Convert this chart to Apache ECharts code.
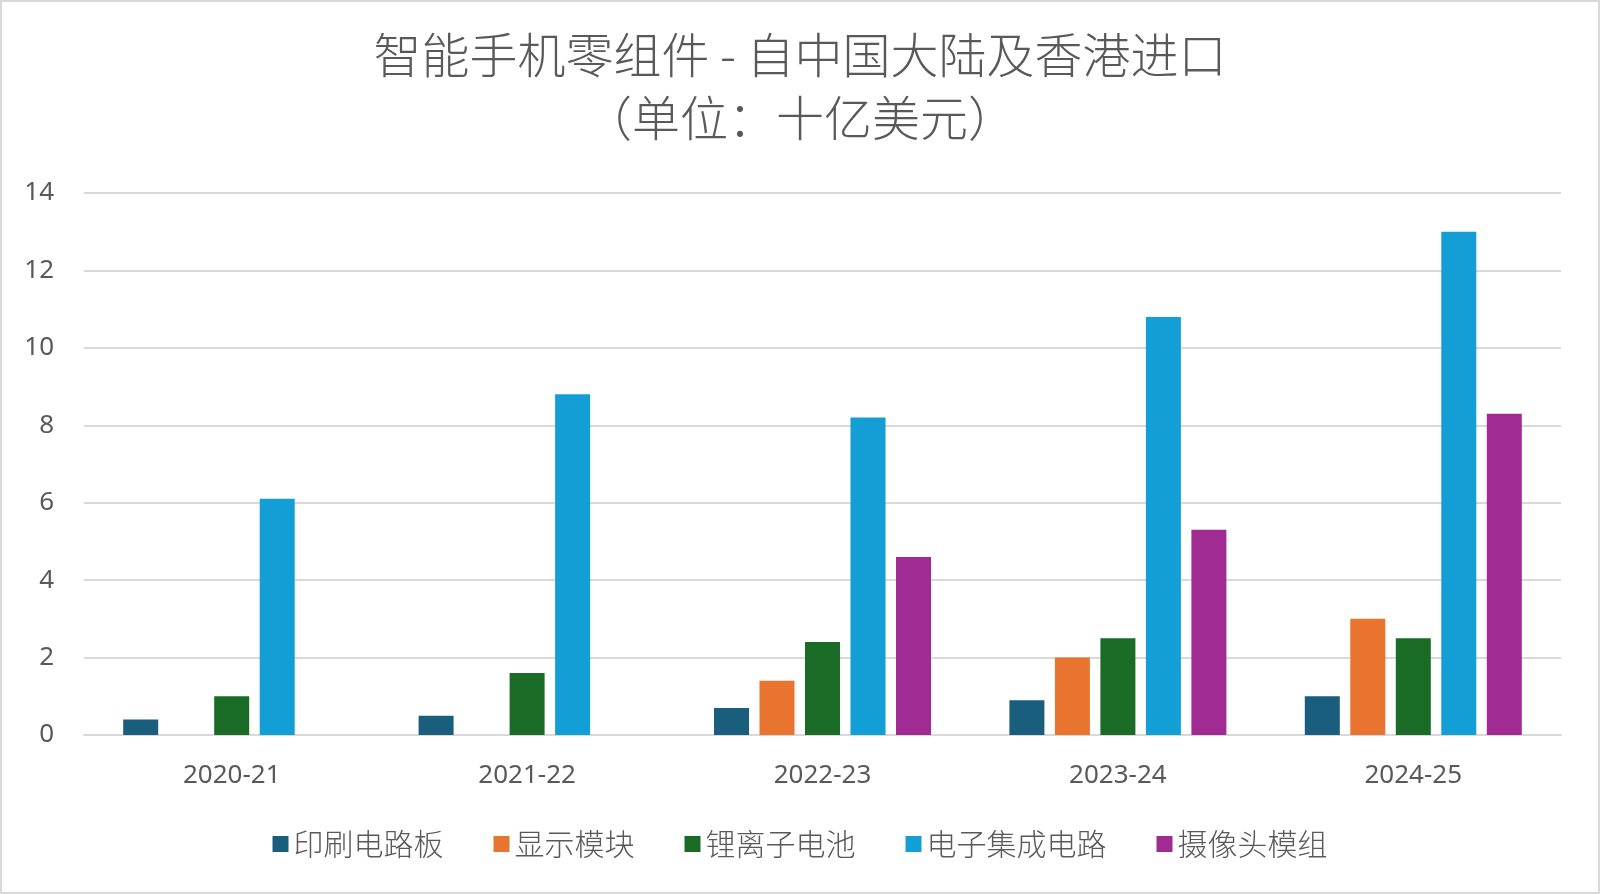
<!DOCTYPE html>
<html lang="zh">
<head>
    <meta charset="utf-8" />
    <title>智能手机零组件 - 自中国大陆及香港进口</title>
    <script src="https://cdn.jsdelivr.net/npm/echarts@6/dist/echarts.min.js"></script>
    <style>
        html, body { margin: 0; padding: 0; background: #fff; }
        #main { width: 1596px; height: 890px; border: 2px solid #d9d9d9; }
    </style>
</head>
<body>
<div id="main"></div>
<script>
// 数据
var years = ['2020-21', '2021-22', '2022-23', '2023-24', '2024-25'];
var pcb = [0.4, 0.5, 0.7, 0.9, 1.0];          // 印刷电路板
var display = [null, null, 1.4, 2.0, 3.0];    // 显示模块
var battery = [1.0, 1.6, 2.4, 2.5, 2.5];      // 锂离子电池
var ic = [6.1, 8.8, 8.2, 10.8, 13.0];         // 电子集成电路
var camera = [null, null, 4.6, 5.3, 8.3];     // 摄像头模组
var yTicks = [0, 2, 4, 6, 8, 10, 12, 14];

var seriesNames = ['印刷电路板', '显示模块', '锂离子电池', '电子集成电路', '摄像头模组'];
var seriesData = [pcb, display, battery, ic, camera];
var colors = ['#1a5e7e', '#e8742f', '#1a6b26', '#139ed5', '#a02b93'];

var fontFamily = '"Noto Sans", "Noto Sans CJK SC", sans-serif';
var chart = echarts.init(document.getElementById('main'));

var series = seriesNames.map(function (name, i) {
    return {
        name: name,
        type: 'bar',
        data: seriesData[i],
        barWidth: 35,
        barGap: '30%',
        itemStyle: { color: colors[i] }
    };
});

chart.setOption({
    animation: false,
    color: colors,
    title: {
        text: '智能手机零组件 - 自中国大陆及香港进口\n（单位：十亿美元）',
        left: 'center',
        top: 16,
        textStyle: {
            fontFamily: '"Noto Sans CJK SC", sans-serif',
            fontWeight: 300,
            fontSize: 48,
            lineHeight: 63,
            color: '#595959'
        }
    },
    legend: {
        data: seriesNames,
        bottom: 28,
        left: 'center',
        itemWidth: 16,
        itemHeight: 16,
        itemGap: 50,
        icon: 'rect',
        textStyle: {
            fontFamily: '"Noto Sans CJK SC", sans-serif',
            fontWeight: 300,
            fontSize: 30,
            color: '#595959'
        }
    },
    grid: { left: 82, right: 37, top: 191, bottom: 157 },
    xAxis: {
        type: 'category',
        data: years,
        axisLine: { lineStyle: { color: '#d9d9d9', width: 2 } },
        axisTick: { show: false },
        axisLabel: {
            fontFamily: fontFamily,
            fontSize: 26,
            color: '#595959',
            margin: 28
        }
    },
    yAxis: {
        type: 'value',
        min: yTicks[0],
        max: yTicks[yTicks.length - 1],
        interval: 2,
        axisLine: { show: false },
        axisTick: { show: false },
        splitLine: { lineStyle: { color: '#d9d9d9', width: 2 } },
        axisLabel: {
            fontFamily: fontFamily,
            fontSize: 26,
            color: '#595959',
            margin: 30
        }
    },
    series: series
});
</script>
</body>
</html>
